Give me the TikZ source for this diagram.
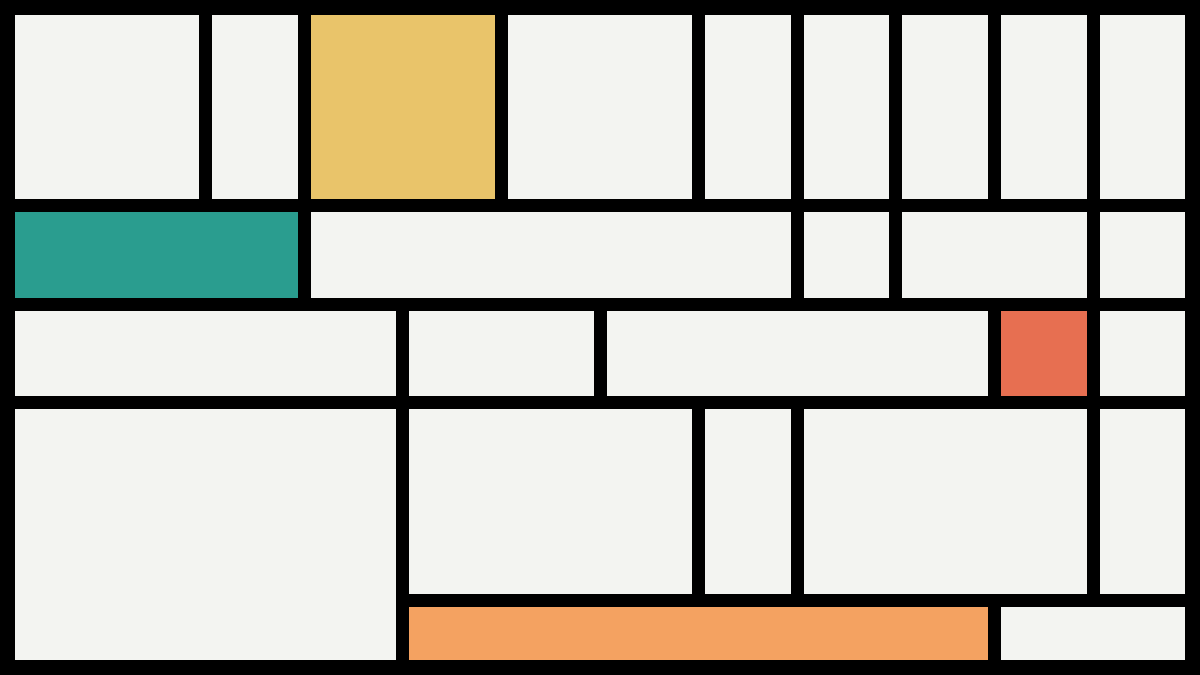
\documentclass[tikz,border=0pt]{standalone}
\definecolor{paper}{HTML}{F3F4F1}
\definecolor{myyellow}{HTML}{E9C46A}
\definecolor{myteal}{HTML}{2A9D8F}
\definecolor{myred}{HTML}{E76F51}
\definecolor{myorange}{HTML}{F4A261}
\newcommand\mcell[5]{\fill[#5] ({15+#1*98.6},{15+#3*98.6}) rectangle ({2+#2*98.6},{2+#4*98.6});}
\begin{document}
\begin{tikzpicture}[x=1pt,y=-1pt]
\fill[black] (0,0) rectangle (1200,675);
\useasboundingbox (0,0) rectangle (1200,675);
% Row A
\mcell{0}{2}{0}{2}{paper}
\mcell{2}{3}{0}{2}{paper}
\mcell{3}{5}{0}{2}{myyellow}
\mcell{5}{7}{0}{2}{paper}
\mcell{7}{8}{0}{2}{paper}
\mcell{8}{9}{0}{2}{paper}
\mcell{9}{10}{0}{2}{paper}
\mcell{10}{11}{0}{2}{paper}
\mcell{11}{12}{0}{2}{paper}
% Row B
\mcell{0}{3}{2}{3}{myteal}
\mcell{3}{8}{2}{3}{paper}
\mcell{8}{9}{2}{3}{paper}
\mcell{9}{11}{2}{3}{paper}
\mcell{11}{12}{2}{3}{paper}
% Row C
\mcell{0}{4}{3}{4}{paper}
\mcell{4}{6}{3}{4}{paper}
\mcell{6}{10}{3}{4}{paper}
\mcell{10}{11}{3}{4}{myred}
\mcell{11}{12}{3}{4}{paper}
% Row D
\mcell{0}{4}{4}{6.6734}{paper}
\mcell{4}{7}{4}{6}{paper}
\mcell{7}{8}{4}{6}{paper}
\mcell{8}{11}{4}{6}{paper}
\mcell{11}{12}{4}{6}{paper}
% Row E
\mcell{4}{10}{6}{6.6734}{myorange}
\mcell{10}{12}{6}{6.6734}{paper}
\end{tikzpicture}
\end{document}
